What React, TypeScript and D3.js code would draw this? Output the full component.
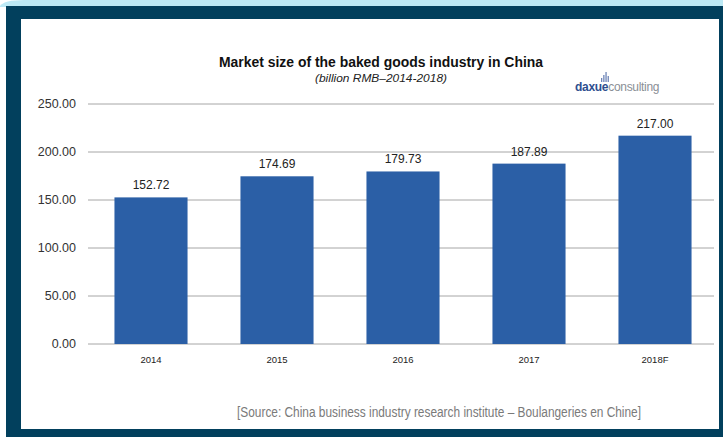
import React from "react";
import * as d3 from "d3";

const categories = ["2014", "2015", "2016", "2017", "2018F"];
const values = [152.72, 174.69, 179.73, 187.89, 217.0];
const yTicks = [0, 50, 100, 150, 200, 250];

const W = 723;
const H = 437;

export default function App() {
  const x = d3
    .scaleBand<string>()
    .domain(categories)
    .range([88, 718])
    .paddingInner(0.42)
    .paddingOuter(0.21);
  const y = d3.scaleLinear().domain([0, 250]).range([344, 104]);
  const font = "'Liberation Sans', Arial, sans-serif";

  return (
    <svg
      width={W}
      height={H}
      style={{ position: "absolute", left: 0, top: 0, display: "block" }}
      fontFamily={font}
    >
      <rect x={0} y={0} width={W} height={H} fill="#ffffff" />
      <path d={`M0,6 Q4,0 24,0 L${W},0 L${W},7 L0,7 Z`} fill="#bce9f5" />
      <rect x={6} y={6} width={W - 6} height={H - 6} fill="#02405d" />
      <rect x={21} y={19} width={719 - 21} height={429 - 19} fill="#ffffff" />

      <text
        x={381}
        y={67}
        textAnchor="middle"
        fontSize={14}
        fontWeight="bold"
        fill="#111"
        textLength={324}
        lengthAdjust="spacingAndGlyphs"
      >
        Market size of the baked goods industry in China
      </text>
      <text
        x={381}
        y={82}
        textAnchor="middle"
        fontSize={11.5}
        fontStyle="italic"
        fill="#222"
        textLength={132}
        lengthAdjust="spacingAndGlyphs"
      >
        (billion RMB–2014-2018)
      </text>

      {/* logo */}
      <g>
        {[0, 1, 2, 3].map((i) => (
          <rect
            key={i}
            x={601 + i * 2.2}
            y={82 - [4, 7, 10, 6][i]}
            width={1.3}
            height={[4, 7, 10, 6][i]}
            fill="#6f86b8"
          />
        ))}
        <text x={575} y={91} fontSize={12} fill="#2f4f8f" fontWeight="bold" letterSpacing={-0.3}>
          daxue
          <tspan fill="#8a8f96" fontWeight="normal">consulting</tspan>
        </text>
      </g>

      {yTicks.map((t) => (
        <g key={t}>
          <line x1={88} x2={714} y1={y(t)} y2={y(t)} stroke="#a6a6a6" strokeWidth={1} />
          <text
            x={76}
            y={y(t)}
            dy="0.35em"
            textAnchor="end"
            fontSize={12.5}
            fill="#333"
          >
            {d3.format(".2f")(t)}
          </text>
        </g>
      ))}

      {categories.map((c, i) => (
        <g key={c}>
          <rect
            x={x(c)}
            y={y(values[i])}
            width={x.bandwidth()}
            height={y(0) - y(values[i])}
            fill="#2b5fa6"
          />
          <text
            x={(x(c) as number) + x.bandwidth() / 2}
            y={y(values[i]) - 8}
            textAnchor="middle"
            fontSize={12}
            fill="#222"
          >
            {d3.format(".2f")(values[i])}
          </text>
          <text
            x={(x(c) as number) + x.bandwidth() / 2}
            y={363}
            textAnchor="middle"
            fontSize={9.5}
            fill="#222"
          >
            {c}
          </text>
        </g>
      ))}

      <text
        x={439}
        y={417}
        textAnchor="middle"
        fontSize={14}
        fill="#7a7a7a"
        textLength={404}
        lengthAdjust="spacingAndGlyphs"
      >
        [Source: China business industry research institute – Boulangeries en Chine]
      </text>
    </svg>
  );
}
